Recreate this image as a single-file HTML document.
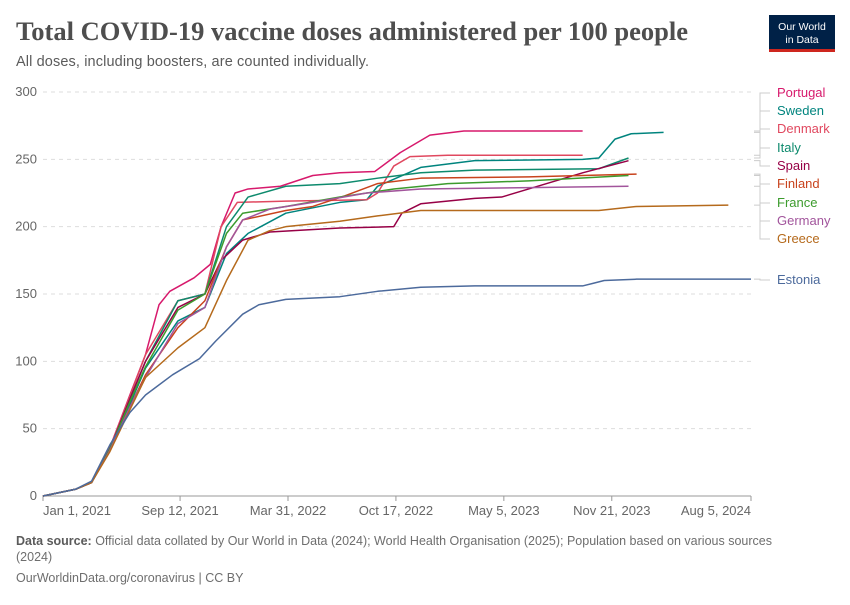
<!DOCTYPE html>
<html><head><meta charset="utf-8"><style>
body{margin:0;background:#fff;width:850px;height:600px;overflow:hidden;font-family:"Liberation Sans",sans-serif}
</style></head><body>
<svg width="850" height="600" xmlns="http://www.w3.org/2000/svg">
<text x="16" y="40" font-family="Liberation Serif,serif" font-size="26" font-weight="bold" fill="#4e4e4e" textLength="672" lengthAdjust="spacingAndGlyphs">Total COVID-19 vaccine doses administered per 100 people</text>
<text x="16" y="66" font-size="14.5" fill="#5b5b5b" textLength="353">All doses, including boosters, are counted individually.</text>
<g>
<rect x="769" y="15" width="66" height="37" fill="#002147"/>
<rect x="769" y="49" width="66" height="3" fill="#ce261e"/>
<text x="802" y="30" font-size="10.5" fill="#fff" text-anchor="middle">Our World</text>
<text x="802" y="43" font-size="10.5" fill="#fff" text-anchor="middle">in Data</text>
</g>
<g id="grid"></g>
<g id="lines"></g>
<g id="legend"></g>
<text x="16" y="545" font-size="12.5" fill="#6e6e6e"><tspan font-weight="bold" fill="#5b5b5b">Data source:</tspan> Official data collated by Our World in Data (2024); World Health Organisation (2025); Population based on various sources</text>
<text x="16" y="561" font-size="12.5" fill="#6e6e6e">(2024)</text>
<text x="16" y="582" font-size="12.5" fill="#6e6e6e">OurWorldinData.org/coronavirus | CC BY</text>
</svg>
<script>
const yTicks=[0,50,100,150,200,250,300];
const xTickDays=[0,254,454,654,854,1054,1312];
const xTickLabels=["Jan 1, 2021","Sep 12, 2021","Mar 31, 2022","Oct 17, 2022","May 5, 2023","Nov 21, 2023","Aug 5, 2024"];
const countries=["Portugal","Sweden","Denmark","Italy","Spain","Finland","France","Germany","Greece","Estonia"];
const colors=["#d7196c","#00847e","#e0485f","#0d8a6d","#970046","#c8431d","#3c9b2d","#a2559c","#b56a1c","#4c6a9c"];
const labelY=[93,111,129,148,166,184,203,221,239,280];
const portugal=[[0,0],[60,5],[90,10],[124,36],[161,75],[190,105],[215,142],[235,152],[280,162],[310,172],[330,200],[356,225],[380,228],[440,230],[500,238],[550,240],[615,241],[662,255],[717,268],[780,271],[1000,271]];
const sweden=[[0,0],[60,5],[90,10],[124,34],[161,68],[190,95],[250,130],[300,140],[340,180],[380,195],[450,210],[550,218],[600,220],[620,230],[700,244],[800,249],[1000,250],[1030,251],[1060,265],[1090,269],[1150,270]];
const denmark=[[0,0],[60,5],[90,10],[124,36],[161,74],[190,105],[250,145],[300,150],[330,200],[360,218],[450,219],[600,220],[620,225],[650,245],[680,252],[750,253],[1000,253]];
const italy=[[0,0],[60,5],[90,10],[124,35],[161,72],[190,100],[250,145],[300,150],[340,200],[380,222],[450,230],[550,232],[620,236],[700,240],[800,242],[1030,243],[1085,251]];
const spain=[[0,0],[60,5],[90,10],[124,35],[161,72],[190,100],[250,140],[300,150],[330,175],[370,190],[420,196],[550,199],[650,200],[665,210],[700,217],[800,221],[850,222],[1000,240],[1085,249]];
const finland=[[0,0],[60,5],[90,10],[124,34],[161,66],[190,90],[250,125],[300,145],[340,185],[370,205],[450,212],[500,215],[560,223],[620,232],[700,236],[900,237],[1100,239]];
const france=[[0,0],[60,5],[90,10],[124,35],[161,70],[190,96],[250,138],[300,150],[340,195],[370,210],[450,215],[550,222],[650,228],[750,232],[900,234],[1085,238]];
const germany=[[0,0],[60,5],[90,10],[124,34],[161,66],[190,88],[250,128],[300,140],[340,185],[370,205],[420,213],[500,218],[600,225],[700,228],[900,229],[1085,230]];
const greece=[[0,0],[60,5],[90,10],[124,33],[161,64],[190,88],[250,110],[300,125],[340,160],[380,190],[420,197],[450,200],[550,204],[620,208],[700,212],[900,212],[1030,212],[1100,215],[1270,216]];
const estonia=[[0,0],[60,5],[90,11],[124,38],[161,62],[190,75],[240,90],[290,102],[320,115],[370,135],[400,142],[450,146],[550,148],[620,152],[700,155],[800,156],[1000,156],[1020,158],[1040,160],[1100,161],[1312,161]];
const seriesData=[portugal,sweden,denmark,italy,spain,finland,france,germany,greece,estonia];
const NS="http://www.w3.org/2000/svg";
const x=d=>43+d*(751-43)/1312;
const y=v=>496-v*(496-92)/300;
function mk(tag,attrs,parent){const e=document.createElementNS(NS,tag);for(const k in attrs)e.setAttribute(k,attrs[k]);parent.appendChild(e);return e;}
const grid=document.getElementById('grid');
yTicks.forEach(t=>{
  const l=mk('line',{x1:43,x2:751,y1:y(t),y2:y(t),stroke:t===0?'#999':'#ddd','stroke-dasharray':t===0?'':'4,4'},grid);
  
  
  const tx=mk('text',{x:37,y:y(t)+4,'text-anchor':'end','font-size':13,fill:'#666'},grid);
  tx.textContent=t;
  
  
});
xTickDays.forEach((d,i)=>{
  const l=mk('line',{x1:x(d),x2:x(d),y1:496,y2:501,stroke:'#999'},grid);
  
  
  const anchor=i===0?'start':(i===xTickDays.length-1?'end':'middle');
  const tx=mk('text',{x:x(d),y:515,'text-anchor':anchor,'font-size':13,fill:'#666'},grid);
  tx.textContent=xTickLabels[i];
  
  
});
const lines=document.getElementById('lines');
const legend=document.getElementById('legend');
seriesData.forEach((s,i)=>{
  const p=mk('polyline',{points:s.map(q=>x(q[0])+','+y(q[1])).join(' '),fill:'none',stroke:colors[i],'stroke-width':1.5,'stroke-linejoin':'round'},lines);
  
  
  const last=s[s.length-1];
  const ly=labelY[i];
  const ey=y(last[1]);
  const c=mk('path',{d:`M754 ${ey} H760 V${ly} H770`,fill:'none',stroke:'#ccc','stroke-width':1},legend);
  
  
  const t=mk('text',{x:777,y:ly+4,'font-size':13,fill:colors[i]},legend);
  t.textContent=countries[i];
  
  
});
</script>
</body></html>
